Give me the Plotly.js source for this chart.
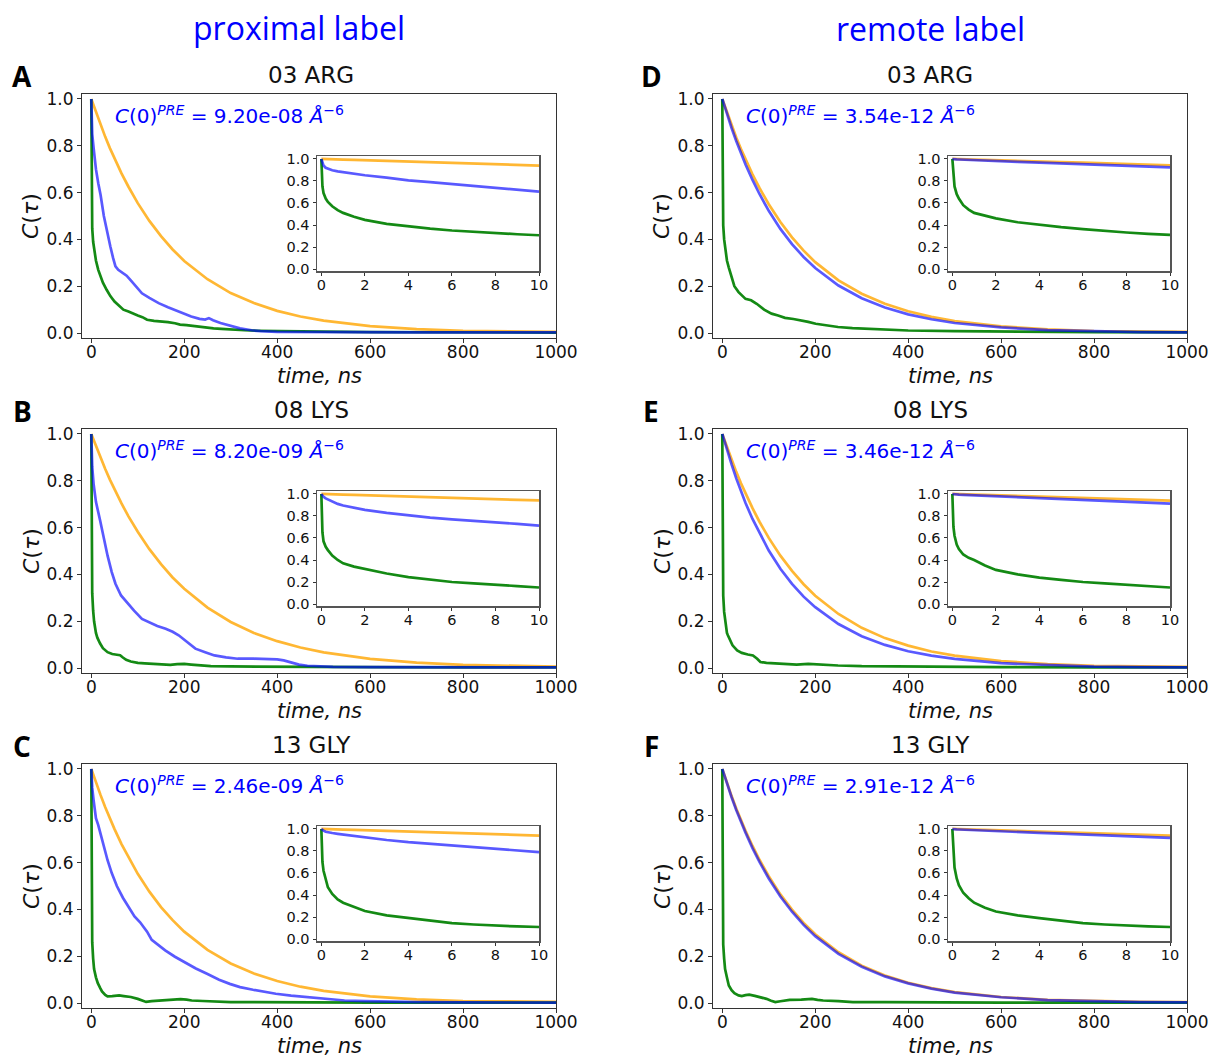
<!DOCTYPE html>
<html><head><meta charset="utf-8">
<script src="https://cdn.plot.ly/plotly-3.0.1.min.js"></script>
<style>body{margin:0;background:#fff}#chart{width:1211px;height:1057px}</style>
</head><body><div id="chart"></div>
<script>
// ---------- data ----------
const panelLetters = ['A','B','C','D','E','F'];
const residues = ['03 ARG','08 LYS','13 GLY','03 ARG','08 LYS','13 GLY'];
const c0Values = ['9.20e-08','8.20e-09','2.46e-09','3.54e-12','3.46e-12','2.91e-12'];
const columnHeaders = ['proximal label','remote label'];

const mainXTicks = [0,200,400,600,800,1000];
const insetXTicks = [0,2,4,6,8,10];
const yTicks = [0,0.2,0.4,0.6,0.8,1.0];
const yTickText = ['0.0','0.2','0.4','0.6','0.8','1.0'];

const tMain = [0,10,20,30,40,50,65,80,100,125,150,175,200,250,300,350,400,450,500,600,700,800,900,1000];
const orangeA = [1.0,0.943,0.889,0.838,0.79,0.745,0.682,0.625,0.555,0.479,0.414,0.357,0.308,0.23,0.171,0.128,0.095,0.071,0.053,0.03,0.017,0.01,0.007,0.005];
const orangeB = [1.0,0.947,0.897,0.85,0.805,0.763,0.703,0.648,0.582,0.508,0.444,0.387,0.339,0.258,0.197,0.15,0.115,0.088,0.067,0.039,0.023,0.014,0.009,0.006];
const orangeC = [1.0,0.942,0.888,0.836,0.788,0.743,0.679,0.622,0.552,0.476,0.41,0.354,0.305,0.227,0.169,0.126,0.094,0.07,0.052,0.029,0.016,0.009,0.006,0.005];
const orangeD = [1.0,0.942,0.887,0.835,0.787,0.742,0.678,0.62,0.55,0.474,0.409,0.352,0.303,0.225,0.168,0.125,0.093,0.069,0.051,0.029,0.016,0.009,0.006,0.005];
const orangeE = [1.0,0.943,0.889,0.838,0.79,0.746,0.683,0.625,0.556,0.48,0.415,0.358,0.309,0.231,0.172,0.128,0.096,0.071,0.053,0.03,0.017,0.01,0.006,0.005];
const orangeF = [1.0,0.94,0.884,0.831,0.782,0.736,0.671,0.612,0.542,0.464,0.399,0.342,0.294,0.217,0.16,0.118,0.087,0.064,0.047,0.026,0.014,0.008,0.005,0.004];
const blueD = [1.0,0.936,0.876,0.82,0.768,0.72,0.654,0.594,0.522,0.445,0.38,0.325,0.278,0.203,0.149,0.109,0.08,0.059,0.043,0.024,0.013,0.007,0.004,0.003];
const blueE = [1.0,0.932,0.87,0.81,0.756,0.705,0.637,0.576,0.502,0.424,0.36,0.305,0.26,0.188,0.136,0.099,0.072,0.053,0.039,0.021,0.012,0.006,0.004,0.003];
const blueF = [1.0,0.937,0.879,0.825,0.775,0.728,0.662,0.603,0.532,0.455,0.39,0.334,0.286,0.21,0.155,0.114,0.084,0.062,0.045,0.025,0.013,0.007,0.004,0.003];

const tBlueA = [0,2,5,10,15,20,27,34,41,47,52,58,66,76,85,95,109,125,145,165,185,200,215,233,245,253,262,278,300,320,345,364,400,500,700,1000];
const blueA = [1.0,0.85,0.79,0.70,0.64,0.59,0.5,0.43,0.37,0.32,0.285,0.27,0.26,0.245,0.225,0.2,0.17,0.15,0.128,0.11,0.095,0.082,0.071,0.061,0.058,0.064,0.055,0.043,0.03,0.02,0.012,0.008,0.005,0.004,0.003,0.003];
const tBlueB = [0,2,5,10,19,27,35,44,52,64,76,92,109,125,142,160,175,188,200,212,224,245,265,290,315,350,380,400,414,430,447,465,488,520,600,800,1000];
const blueB = [1.0,0.86,0.785,0.71,0.63,0.55,0.48,0.41,0.36,0.31,0.28,0.245,0.21,0.195,0.18,0.168,0.155,0.14,0.12,0.1,0.083,0.068,0.054,0.046,0.04,0.04,0.039,0.037,0.033,0.025,0.015,0.01,0.007,0.005,0.004,0.003,0.003];
const tBlueC = [0,2,5,10,15,20,27,35,44,55,68,80,93,105,113,120,130,145,159,180,200,225,249,275,298,320,348,375,397,430,463,500,545,590,627,700,800,1000];
const blueC = [1.0,0.92,0.865,0.79,0.76,0.72,0.67,0.61,0.555,0.5,0.45,0.41,0.37,0.345,0.325,0.305,0.27,0.245,0.225,0.198,0.175,0.148,0.125,0.1,0.082,0.068,0.057,0.047,0.04,0.032,0.026,0.018,0.011,0.008,0.006,0.004,0.003,0.002];

const tGreenA = [0,0.5,1,2,4,6,10,15,19,25,33,41,50,60,69,80,90,100,110,120,135,150,165,180,191,205,220,235,250,263,280,300,330,360,400,450,500,600,700,800,900,1000];
const greenA = [1.0,0.58,0.51,0.447,0.39,0.355,0.31,0.27,0.245,0.215,0.185,0.158,0.135,0.118,0.1,0.092,0.082,0.075,0.068,0.057,0.052,0.05,0.047,0.042,0.036,0.034,0.03,0.026,0.024,0.02,0.018,0.015,0.012,0.01,0.008,0.007,0.006,0.004,0.003,0.002,0.002,0.002];
const tGreenB = [0,0.5,1,2,4,6,10,13,19,25,35,45,55,62,68,75,85,100,115,134,150,170,185,200,215,235,257,300,350,400,500,600,800,1000];
const greenB = [1.0,0.43,0.37,0.32,0.245,0.2,0.15,0.13,0.105,0.085,0.068,0.06,0.057,0.055,0.045,0.035,0.028,0.022,0.02,0.017,0.016,0.014,0.017,0.018,0.015,0.011,0.008,0.007,0.006,0.005,0.004,0.004,0.003,0.003];
const tGreenC = [0,0.5,1,2,4,6,10,14,19,23,30,35,45,55,60,70,85,100,110,118,130,150,170,192,205,216,240,270,300,350,400,500,600,800,1000];
const greenC = [1.0,0.39,0.33,0.26,0.19,0.145,0.11,0.085,0.065,0.05,0.035,0.029,0.03,0.034,0.033,0.03,0.026,0.018,0.01,0.005,0.008,0.011,0.014,0.017,0.015,0.011,0.009,0.006,0.004,0.004,0.003,0.003,0.002,0.002,0.002];
const tGreenD = [0,0.5,1,2,4,6,10,14,20,26,35,50,62,74,90,106,120,135,153,170,185,201,225,249,280,320,360,400,500,600,800,1000];
const greenD = [1.0,0.57,0.51,0.46,0.4,0.36,0.31,0.28,0.235,0.2,0.175,0.146,0.14,0.125,0.1,0.083,0.075,0.065,0.06,0.055,0.048,0.04,0.033,0.026,0.021,0.017,0.013,0.011,0.008,0.006,0.004,0.003];
const tGreenE = [0,0.5,1,2,4,6,10,12,22,32,42,55,66,75,82,95,110,122,140,160,185,200,220,249,300,400,600,800,1000];
const greenE = [1.0,0.48,0.4,0.31,0.24,0.2,0.15,0.14,0.097,0.075,0.065,0.058,0.054,0.04,0.026,0.022,0.02,0.018,0.016,0.015,0.018,0.016,0.013,0.011,0.008,0.006,0.004,0.003,0.003];
const tGreenF = [0,0.5,1,2,4,6,10,14,20,26,35,42,50,58,70,82,95,105,114,125,145,170,193,205,217,250,281,350,400,500,600,800,1000];
const greenF = [1.0,0.42,0.33,0.25,0.19,0.145,0.109,0.075,0.055,0.042,0.033,0.03,0.034,0.036,0.031,0.026,0.018,0.01,0.004,0.008,0.014,0.015,0.018,0.014,0.011,0.008,0.004,0.004,0.003,0.003,0.002,0.002,0.002];

// insets: first 10 ns
const tIn = [0,0.05,0.1,0.2,0.3,0.5,0.75,1,1.5,2,3,4,5,6,7,8,9,10];
const orangeInA = [1.0,1.0,0.999,0.999,0.998,0.997,0.996,0.994,0.991,0.988,0.982,0.976,0.97,0.964,0.958,0.952,0.946,0.94];
const orangeInB = [1.0,1.0,0.999,0.999,0.998,0.997,0.996,0.994,0.991,0.988,0.982,0.976,0.97,0.964,0.958,0.952,0.946,0.941];
const orangeInC = [1.0,1.0,0.999,0.999,0.998,0.997,0.996,0.994,0.991,0.988,0.982,0.976,0.97,0.964,0.958,0.952,0.946,0.94];
const orangeInD = [1.0,1.0,0.999,0.999,0.998,0.997,0.996,0.994,0.991,0.989,0.983,0.977,0.971,0.966,0.96,0.954,0.948,0.943];
const orangeInE = [1.0,1.0,0.999,0.999,0.998,0.997,0.996,0.994,0.991,0.988,0.982,0.976,0.97,0.964,0.958,0.952,0.946,0.94];
const orangeInF = [1.0,1.0,0.999,0.999,0.998,0.997,0.996,0.994,0.991,0.988,0.982,0.976,0.97,0.964,0.958,0.952,0.946,0.94];
const blueInA = [1.0,0.96,0.94,0.92,0.91,0.897,0.887,0.88,0.865,0.852,0.83,0.805,0.79,0.773,0.757,0.74,0.722,0.704];
const blueInB = [1.0,0.985,0.975,0.96,0.95,0.93,0.91,0.895,0.875,0.855,0.828,0.804,0.785,0.77,0.757,0.745,0.728,0.712];
const blueInC = [1.0,0.99,0.985,0.975,0.97,0.963,0.956,0.95,0.935,0.92,0.9,0.88,0.865,0.85,0.835,0.82,0.805,0.79];
const blueInD = [1.0,0.998,0.997,0.996,0.995,0.993,0.991,0.989,0.985,0.981,0.974,0.967,0.96,0.953,0.946,0.939,0.931,0.924];
const blueInE = [1.0,0.998,0.997,0.995,0.994,0.992,0.99,0.987,0.982,0.977,0.968,0.96,0.951,0.943,0.935,0.928,0.92,0.913];
const blueInF = [1.0,0.998,0.997,0.996,0.995,0.993,0.99,0.988,0.984,0.98,0.972,0.964,0.957,0.949,0.941,0.934,0.927,0.92];
const greenInA = [1.0,0.75,0.69,0.64,0.61,0.57,0.535,0.51,0.475,0.447,0.41,0.387,0.367,0.35,0.337,0.326,0.316,0.307];
const greenInB = [1.0,0.65,0.57,0.52,0.49,0.44,0.4,0.37,0.34,0.317,0.277,0.245,0.22,0.2,0.188,0.178,0.163,0.15];
const greenInC = [1.0,0.7,0.62,0.53,0.47,0.41,0.36,0.33,0.29,0.255,0.215,0.19,0.165,0.145,0.132,0.12,0.114,0.109];
const greenInD = [1.0,0.82,0.75,0.68,0.64,0.58,0.54,0.51,0.485,0.46,0.425,0.4,0.38,0.362,0.345,0.332,0.32,0.31];
const greenInE = [1.0,0.7,0.62,0.54,0.5,0.45,0.42,0.4,0.35,0.31,0.27,0.24,0.22,0.2,0.187,0.175,0.162,0.15];
const greenInF = [1.0,0.75,0.65,0.55,0.49,0.42,0.37,0.33,0.285,0.25,0.215,0.19,0.165,0.145,0.132,0.12,0.114,0.109];

// ---------- assembly ----------
const W = 1211, H = 1057;
const fx = p => p / W, fy = p => 1 - p / H;
const COL = {orange:'rgba(255,165,0,0.8)', blue:'rgba(0,0,255,0.65)', green:'rgba(0,128,0,0.92)'};

const series = [
  {o:orangeA, tb:tBlueA, b:blueA, tg:tGreenA, g:greenA, oi:orangeInA, bi:blueInA, gi:greenInA},
  {o:orangeB, tb:tBlueB, b:blueB, tg:tGreenB, g:greenB, oi:orangeInB, bi:blueInB, gi:greenInB},
  {o:orangeC, tb:tBlueC, b:blueC, tg:tGreenC, g:greenC, oi:orangeInC, bi:blueInC, gi:greenInC},
  {o:orangeD, tb:tMain,  b:blueD, tg:tGreenD, g:greenD, oi:orangeInD, bi:blueInD, gi:greenInD},
  {o:orangeE, tb:tMain,  b:blueE, tg:tGreenE, g:greenE, oi:orangeInE, bi:blueInE, gi:greenInE},
  {o:orangeF, tb:tMain,  b:blueF, tg:tGreenF, g:greenF, oi:orangeInF, bi:blueInF, gi:greenInF}
];

const colLeft = [82, 713], mainW = 474;
const rowTop = [94, 429, 764], mainH = 244;
const colStep = 631, rowStep = 335;
const inset = {l:317, r:539, t:156, b:271};

const data = [];
const layout = {
  width: W, height: H, margin:{l:0,r:0,t:0,b:0},
  paper_bgcolor:'#fff', plot_bgcolor:'#fff', showlegend:false,
  annotations: []
};
const axName = (k, a) => a + 'axis' + (k === 1 ? '' : k);
const axRef = (k, a) => a + (k === 1 ? '' : k);

function axisBase(extra) {
  return Object.assign({
    showline:true, mirror:true, linecolor:'#333', linewidth:1,
    ticks:'outside', ticklen:4, tickwidth:1, tickcolor:'#333',
    showgrid:false, zeroline:false, fixedrange:true,
    tickfont:{family:'DejaVu Sans', size:17, color:'#111'}
  }, extra);
}
function addLine(k, x, y, color) {
  data.push({type:'scatter', mode:'lines', x:x, y:y, xaxis:axRef(k,'x'), yaxis:axRef(k,'y'),
    line:{color:color, width:2.7}, hoverinfo:'skip'});
}

for (let i = 0; i < 6; i++) {
  const col = Math.floor(i / 3), row = i % 3;
  const s = series[i];
  const L = colLeft[col], T = rowTop[row];
  const k = i + 1;
  layout[axName(k,'x')] = axisBase({domain:[fx(L), fx(L+mainW)], range:[-20,1000], anchor:axRef(k,'y'),
    tickvals:mainXTicks, ticktext:mainXTicks.map(String), ticklabelstandoff:-5});
  layout[axName(k,'y')] = axisBase({domain:[fy(T+mainH), fy(T)], range:[-0.021,1.021], anchor:axRef(k,'x'),
    tickvals:yTicks, ticktext:yTickText});
  addLine(k, tMain, s.o, COL.orange);
  addLine(k, s.tg, s.g, COL.green);
  addLine(k, s.tb, s.b, COL.blue);

  const ki = i + 7;
  const il = inset.l + col*colStep, ir = inset.r + col*colStep;
  const it = inset.t + row*rowStep, ib = inset.b + row*rowStep;
  layout[axName(ki,'x')] = axisBase({domain:[fx(il), fx(ir)], range:[-0.2,10], anchor:axRef(ki,'y'),
    tickvals:insetXTicks, ticktext:insetXTicks.map(String), ticklen:3, linecolor:'#555', linewidth:1.5,
    ticklabelstandoff:-3, tickfont:{family:'DejaVu Sans', size:14.5, color:'#111'}});
  layout[axName(ki,'y')] = axisBase({domain:[fy(ib), fy(it)], range:[-0.018,1.027], anchor:axRef(ki,'x'),
    tickvals:yTicks, ticktext:yTickText, ticklen:3, linecolor:'#555', linewidth:1.5,
    tickfont:{family:'DejaVu Sans', size:14.5, color:'#111'}});
  addLine(ki, tIn, s.oi, COL.orange);
  addLine(ki, tIn, s.gi, COL.green);
  addLine(ki, tIn, s.bi, COL.blue);

  const A = layout.annotations;
  const cx = L + mainW/2;
  A.push({xref:'paper', yref:'paper', x:fx(col ? 651 : 22), y:fy(T-18), text:'<b>'+panelLetters[i]+'</b>',
    showarrow:false, xanchor:'center', yanchor:'middle', font:{family:'Open Sans', size:28, color:'#000'}});
  A.push({xref:'paper', yref:'paper', x:fx(col ? 930 : 311), y:fy(T-19), text:residues[i],
    showarrow:false, xanchor:'center', yanchor:'middle', font:{family:'DejaVu Sans', size:23, color:'#111'}});
  A.push({xref:'paper', yref:'paper', x:fx(L-51), y:fy(T+mainH/2), text:'<i>C</i>(<i>τ</i>)', textangle:-90,
    showarrow:false, xanchor:'center', yanchor:'middle', font:{family:'DejaVu Sans', size:22, color:'#111'}});
  A.push({xref:'paper', yref:'paper', x:fx(cx), y:fy(T+mainH+38), text:'<i>time, ns</i>',
    showarrow:false, xanchor:'center', yanchor:'middle', font:{family:'DejaVu Sans', size:21, color:'#111'}});
  A.push({xref:'paper', yref:'paper', x:fx(L+31), y:fy(T+21),
    text:'<i>C</i>(0)<sup><i>PRE</i></sup> = ' + c0Values[i] + ' <i>Å</i><sup>−6</sup>',
    showarrow:false, xanchor:'left', yanchor:'middle', font:{family:'DejaVu Sans', size:20, color:'#0000ff'}});
}
layout.annotations.push({xref:'paper', yref:'paper', x:fx(299), y:fy(27), text:columnHeaders[0], showarrow:false,
  xanchor:'center', yanchor:'middle', font:{family:'Open Sans', size:32, color:'#0000ff'}});
layout.annotations.push({xref:'paper', yref:'paper', x:fx(930), y:fy(29), text:columnHeaders[1], showarrow:false,
  xanchor:'center', yanchor:'middle', font:{family:'Open Sans', size:32, color:'#0000ff'}});

Plotly.newPlot('chart', data, layout, {staticPlot:true, displayModeBar:false});
</script>
</body></html>
